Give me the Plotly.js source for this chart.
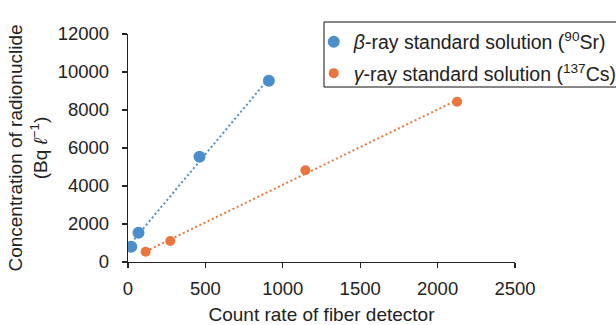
<!DOCTYPE html>
<html>
<head>
<meta charset="utf-8">
<script src="https://cdn.plot.ly/plotly-3.0.1.min.js"></script>
<style>
html,body{margin:0;padding:0;background:#fff;}
#chart{width:616px;height:325px;}
</style>
</head>
<body>
<div id="chart"></div>
<script>
// Data
var betaName = '<i>β</i>-ray standard solution (<sup>90</sup>Sr)';
var gammaName = '<i>γ</i>-ray standard solution (<sup>137</sup>Cs)';
var betaX = [21, 68, 462, 910];
var betaY = [805, 1542, 5542, 9542];
var gammaX = [114, 273, 1146, 2126];
var gammaY = [542, 1105, 4826, 8437];
var xTicks = [0, 500, 1000, 1500, 2000, 2500];
var yTicks = [0, 2000, 4000, 6000, 8000, 10000, 12000];

var blue = '#4a8fcb';
var orange = '#e9773d';

function fitLine(xs, ys) {
  var n = xs.length, mx = 0, my = 0;
  for (var i = 0; i < n; i++) { mx += xs[i]; my += ys[i]; }
  mx /= n; my /= n;
  var sxy = 0, sxx = 0;
  for (var j = 0; j < n; j++) { sxy += (xs[j]-mx)*(ys[j]-my); sxx += (xs[j]-mx)*(xs[j]-mx); }
  var b = sxy / sxx, a = my - b * mx;
  var x0 = Math.min.apply(null, xs), x1 = Math.max.apply(null, xs);
  return {x: [x0, x1], y: [a + b * x0, a + b * x1]};
}
var bFit = fitLine(betaX, betaY);
var gFit = fitLine(gammaX, gammaY);

var dotDash = '2px,2.6px';
var traces = [
  {x: bFit.x, y: bFit.y, mode: 'lines', line: {color: blue, width: 2, dash: dotDash}, showlegend: false, hoverinfo: 'skip'},
  {x: gFit.x, y: gFit.y, mode: 'lines', line: {color: orange, width: 2, dash: dotDash}, showlegend: false, hoverinfo: 'skip'},
  {x: betaX, y: betaY, mode: 'markers', name: betaName, legendgroup: 'b', marker: {color: blue, size: 12}},
  {x: gammaX, y: gammaY, mode: 'markers', name: gammaName, legendgroup: 'g', marker: {color: orange, size: 10}}
];

var fam = 'Liberation Sans, Arial, sans-serif';
var tickFont = {family: fam, size: 18.5, color: '#222'};
var titleFont = {family: fam, size: 19, color: '#222'};

var layout = {
  width: 616, height: 325,
  margin: {l: 128, r: 101, t: 34, b: 63, pad: 0, autoexpand: false},
  paper_bgcolor: '#fff', plot_bgcolor: '#fff',
  showlegend: true,
  legend: {
    x: 0.48, y: 1.05, xanchor: 'left', yanchor: 'top',
    bgcolor: 'rgba(0,0,0,0)', borderwidth: 0,
    font: {family: fam, size: 19.5, color: '#222'},
    traceorder: 'grouped', tracegroupgap: 3, itemwidth: 30
  },
  shapes: [{
    type: 'rect', xref: 'paper', yref: 'paper',
    x0: 0.5065, x1: 1.4, y0: 0.7675, y1: 1.0526,
    line: {color: '#111', width: 1}, fillcolor: '#fff', layer: 'below'
  }],
  xaxis: {
    range: [0, 2500], tickvals: xTicks, ticktext: xTicks.map(String),
    showgrid: false, zeroline: false, showline: true, linecolor: '#222', linewidth: 1.2,
    ticks: 'outside', ticklen: 5, tickcolor: '#222', tickwidth: 1.2,
    tickfont: tickFont, ticklabelstandoff: 5,
    title: {text: 'Count rate of fiber detector', font: titleFont, standoff: 10}
  },
  yaxis: {
    range: [0, 12000], tickvals: yTicks, ticktext: yTicks.map(String),
    showgrid: false, zeroline: false, showline: true, linecolor: '#222', linewidth: 1.2,
    ticks: 'outside', ticklen: 5, tickcolor: '#222', tickwidth: 1.2,
    tickfont: tickFont, ticklabelstandoff: 9,
    title: {text: 'Concentration of radionuclide<br>(Bq <i>ℓ</i><sup>−1</sup>)', font: titleFont, standoff: 5}
  }
};

Plotly.newPlot('chart', traces, layout, {staticPlot: true, displayModeBar: false});
</script>
</body>
</html>
